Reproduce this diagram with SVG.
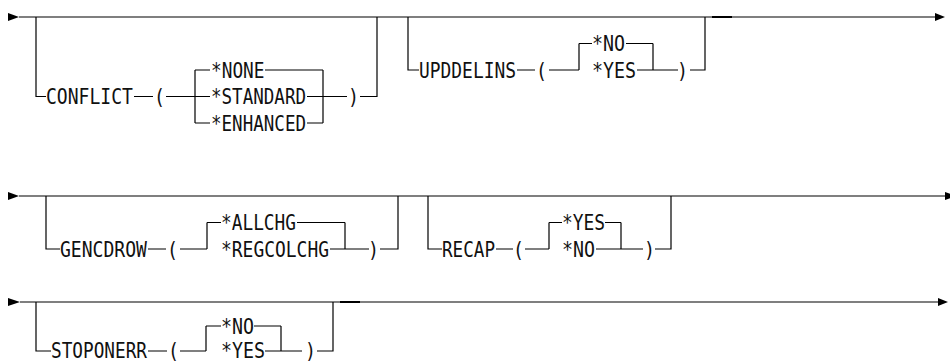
<svg xmlns="http://www.w3.org/2000/svg" width="950" height="363" viewBox="0 0 950 363">
<style>
.l{fill:none;stroke:#000;stroke-width:1.2}
.d{fill:none;stroke:#000;stroke-width:2}
.t{font-family:"DejaVu Sans Mono","Liberation Mono",monospace;font-size:20.5px;fill:#111}
.a{fill:#000}
</style>
<rect width="950" height="363" fill="#fff"/>
<g id="connectors">
<!-- row 1 -->
<polygon class="a" points="8,13 19,17 8,21"/>
<path class="l" d="M19,17H935"/>
<polygon class="a" points="935,13 945,17 935,21"/>
<path class="l" d="M36,17V96.5H46 M134,96.5H153 M166,96.5H195 M195,70V123 M195,70H210 M195,96.5H210 M195,123H210 M265,70H323 M307,96.5H347 M307,123H323 M323,70V123 M360,96.5H377V17"/>
<path class="l" d="M408,17V70H419 M517,70H535 M549,70H579 M579,43.5V70 M579,43.5H592 M626,43.5H653 M637,70H678 M653,43.5V70 M690,70H705V17"/>
<path class="d" d="M712,17H732"/>
<!-- row 2 -->
<polygon class="a" points="8,192 19,196 8,200"/>
<path class="l" d="M19,196H946"/>
<polygon class="a" points="945,192 956,196 945,200"/>
<path class="l" d="M46,196V249H60 M148,249H166 M180,249H207 M207,222.5V249 M207,222.5H221 M297,222.5H345 M330,249H369 M345,222.5V249 M380,249H398V196"/>
<path class="l" d="M428,196V249H442 M496,249H513 M525,249H549 M549,222.5V249 M549,222.5H562 M605,222.5H621 M596,249H643 M621,222.5V249 M655,249H671V196"/>
<!-- row 3 -->
<polygon class="a" points="8,298 20,302 8,306"/>
<path class="l" d="M20,302H938"/>
<polygon class="a" points="938,298 948,302 938,306"/>
<path class="l" d="M36,302V351H51 M148,351H167 M180,351H206 M206,326V351 M206,326H221 M254,326H281 M265,351H302 M281,326V351 M317,351H333V302"/>
<path class="d" d="M340,302H360"/>
</g>
<g id="conflict"><text class="t" x="46" y="104" textLength="87" lengthAdjust="spacingAndGlyphs">CONFLICT</text>
<text class="t" x="154" y="104" textLength="11" lengthAdjust="spacingAndGlyphs">(</text>
<text class="t" x="348" y="104" textLength="11" lengthAdjust="spacingAndGlyphs">)</text></g>
<g id="none"><text class="t" x="211" y="77.5" textLength="53.5" lengthAdjust="spacingAndGlyphs">*NONE</text></g>
<g id="standard"><text class="t" x="211" y="104" textLength="95" lengthAdjust="spacingAndGlyphs">*STANDARD</text></g>
<g id="enhanced"><text class="t" x="211" y="130.5" textLength="95" lengthAdjust="spacingAndGlyphs">*ENHANCED</text></g>
<g id="upddelins"><text class="t" x="419" y="77.5" textLength="97" lengthAdjust="spacingAndGlyphs">UPDDELINS</text>
<text class="t" x="536" y="77.5" textLength="11" lengthAdjust="spacingAndGlyphs">(</text>
<text class="t" x="677" y="77.5" textLength="11" lengthAdjust="spacingAndGlyphs">)</text></g>
<g id="upd-no"><text class="t" x="592" y="51" textLength="33" lengthAdjust="spacingAndGlyphs">*NO</text></g>
<g id="upd-yes"><text class="t" x="592" y="77.5" textLength="44" lengthAdjust="spacingAndGlyphs">*YES</text></g>
<g id="gencdrow"><text class="t" x="60" y="256.5" textLength="87" lengthAdjust="spacingAndGlyphs">GENCDROW</text>
<text class="t" x="167" y="256.5" textLength="11" lengthAdjust="spacingAndGlyphs">(</text>
<text class="t" x="368" y="256.5" textLength="11" lengthAdjust="spacingAndGlyphs">)</text></g>
<g id="allchg"><text class="t" x="221" y="230" textLength="75" lengthAdjust="spacingAndGlyphs">*ALLCHG</text></g>
<g id="regcolchg"><text class="t" x="221" y="256.5" textLength="108" lengthAdjust="spacingAndGlyphs">*REGCOLCHG</text></g>
<g id="recap"><text class="t" x="442" y="256.5" textLength="53" lengthAdjust="spacingAndGlyphs">RECAP</text>
<text class="t" x="513" y="256.5" textLength="11" lengthAdjust="spacingAndGlyphs">(</text>
<text class="t" x="644" y="256.5" textLength="11" lengthAdjust="spacingAndGlyphs">)</text></g>
<g id="recap-yes"><text class="t" x="562" y="230" textLength="43" lengthAdjust="spacingAndGlyphs">*YES</text></g>
<g id="recap-no"><text class="t" x="562" y="256.5" textLength="33" lengthAdjust="spacingAndGlyphs">*NO</text></g>
<g id="stoponerr"><text class="t" x="51" y="358" textLength="96" lengthAdjust="spacingAndGlyphs">STOPONERR</text>
<text class="t" x="168" y="358" textLength="11" lengthAdjust="spacingAndGlyphs">(</text>
<text class="t" x="305" y="358" textLength="11" lengthAdjust="spacingAndGlyphs">)</text></g>
<g id="stop-no"><text class="t" x="221" y="333.5" textLength="33" lengthAdjust="spacingAndGlyphs">*NO</text></g>
<g id="stop-yes"><text class="t" x="221" y="358" textLength="44" lengthAdjust="spacingAndGlyphs">*YES</text></g>
</svg>
